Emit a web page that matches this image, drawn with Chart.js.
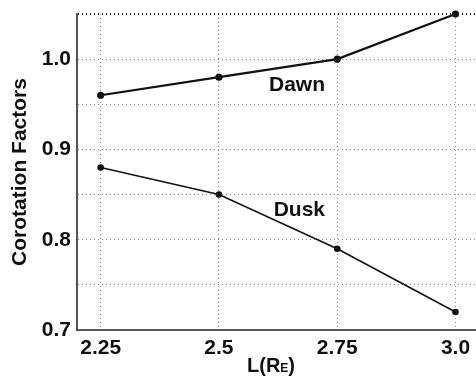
<!DOCTYPE html>
<html>
<head>
<meta charset="utf-8">
<script src="https://cdn.jsdelivr.net/npm/chart.js@4"></script>
<style>
  html, body { margin: 0; padding: 0; background: #fff; overflow: hidden; }
  #wrap { width: 476px; height: 378px; overflow: hidden; }
</style>
</head>
<body>
<div id="wrap"><canvas id="corotChart" width="483" height="378"></canvas></div>
<script>
const lValues = [2.25, 2.5, 2.75, 3.0];
const dawnFactors = [0.96, 0.98, 1.0, 1.05];
const duskFactors = [0.88, 0.85, 0.79, 0.72];
const xTickLabels = ["2.25", "2.5", "2.75", "3.0"];
const yTickLabels = ["0.7", "0.8", "0.9", "1.0"];

const FONT = "'Liberation Sans', Arial, sans-serif";

function pts(ys) {
  return lValues.map((x, i) => ({ x: x, y: ys[i] }));
}

// curve labels and axis titles
const extraText = {
  id: "extraText",
  afterDraw(chart) {
    const ctx = chart.ctx;
    const xs = chart.scales.x, ys = chart.scales.y;
    const area = chart.chartArea;
    ctx.save();
    ctx.fillStyle = "#111";
    ctx.font = "bold 21px " + FONT;
    ctx.textAlign = "center";
    ctx.textBaseline = "middle";
    ctx.fillText("Dawn", xs.getPixelForValue(2.665), ys.getPixelForValue(0.971));
    ctx.fillText("Dusk", xs.getPixelForValue(2.67), ys.getPixelForValue(0.833));

    // y title
    ctx.save();
    ctx.translate(20, (area.top + area.bottom) / 2);
    ctx.rotate(-Math.PI / 2);
    ctx.fillText("Corotation Factors", 0, 0);
    ctx.restore();

    // x title L(R_E)
    const cx = 271, cy = 366;
    ctx.textAlign = "left";
    const a = "L(R", b = "E", c = ")";
    ctx.font = "bold 20px " + FONT;
    const wa = ctx.measureText(a).width;
    const wc = ctx.measureText(c).width;
    ctx.font = "bold 12px " + FONT;
    const wb = ctx.measureText(b).width;
    const x0 = cx - (wa + wb + wc) / 2;
    ctx.font = "bold 20px " + FONT;
    ctx.fillText(a, x0, cy);
    ctx.font = "bold 12px " + FONT;
    ctx.fillText(b, x0 + wa, cy + 3);
    ctx.font = "bold 20px " + FONT;
    ctx.fillText(c, x0 + wa + wb, cy);
    ctx.restore();
  }
};

new Chart(document.getElementById("corotChart").getContext("2d"), {
  type: "scatter",
  data: {
    datasets: [
      {
        label: "Dawn",
        data: pts(dawnFactors),
        showLine: true,
        borderColor: "#111",
        backgroundColor: "#111",
        borderWidth: 2.2,
        pointRadius: 2.5,
        clip: false
      },
      {
        label: "Dusk",
        data: pts(duskFactors),
        showLine: true,
        borderColor: "#111",
        backgroundColor: "#111",
        borderWidth: 1.6,
        pointRadius: 2.5,
        clip: false
      }
    ]
  },
  options: {
    responsive: false,
    animation: false,
    layout: { padding: { top: 14, right: 0, left: 0, bottom: 0 } },
    plugins: { legend: { display: false }, tooltip: { enabled: false } },
    scales: {
      x: {
        type: "linear",
        min: 2.2,
        max: 3.045,
        afterBuildTicks: (s) => { s.ticks = lValues.map(v => ({ value: v })); },
        afterFit: (s) => { s.height = 48; },
        ticks: {
          autoSkip: false,
          maxRotation: 0,
          padding: 6,
          color: "#111",
          font: { family: FONT, size: 21, weight: "bold" },
          callback: (v) => {
            const i = lValues.findIndex(l => Math.abs(l - v) < 1e-6);
            return i >= 0 ? xTickLabels[i] : "";
          }
        },
        grid: { color: "#8a8a8a", lineWidth: 1, drawTicks: false },
        border: { color: "#555", width: 2, dash: [1, 3] },
        title: { display: false }
      },
      y: {
        min: 0.7,
        max: 1.05,
        afterBuildTicks: (s) => {
          const t = [];
          for (let k = 70; k <= 105; k += 5) t.push({ value: k / 100 });
          s.ticks = t;
        },
        afterFit: (s) => { s.width = 77; s.paddingTop = 0; s.paddingBottom = 0; },
        ticks: {
          padding: 6,
          color: "#111",
          font: { family: FONT, size: 21, weight: "bold" },
          callback: (v) => {
            const k = Math.round(v * 100);
            return k % 10 === 0 ? yTickLabels[(k - 70) / 10] : "";
          }
        },
        grid: {
          color: (c) => (c.tick && Math.abs(c.tick.value - 1.05) < 1e-6) ? "#222" : "#8a8a8a",
          lineWidth: (c) => (c.tick && Math.abs(c.tick.value - 1.05) < 1e-6) ? 2 : 1,
          drawTicks: false
        },
        border: { color: "#555", width: 2, dash: [1, 3] },
        title: { display: false }
      }
    }
  },
  plugins: [extraText]
});
</script>
</body>
</html>
